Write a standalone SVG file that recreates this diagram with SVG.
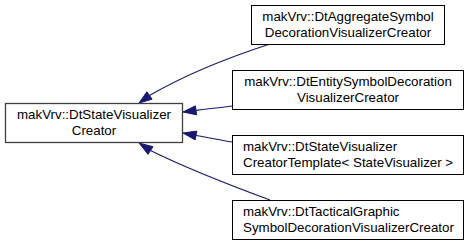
<svg xmlns="http://www.w3.org/2000/svg" width="469" height="247" viewBox="0 0 469 247">
<style>
.box{fill:#ffffff;stroke:#000000;stroke-width:1}
.cur{fill:#ffffff;stroke:#404040;stroke-width:1.3}
text{font-family:"Liberation Sans",Arial,Helvetica,sans-serif;font-size:13.33px;fill:#000000}
.c{text-anchor:middle}
.l{text-anchor:start}
.edge{fill:none;stroke:#191970;stroke-width:1.2}
.head{fill:#191970;stroke:#191970;stroke-width:1}
</style>
<rect width="469" height="247" fill="#ffffff"/>
<g id="connectors">
  <path class="edge" d="M270,44 C233,56 190,72 149.5,95.5"/>
  <polygon class="head" points="139,103 152.1,99.2 146.9,91.8"/>
  <path class="edge" d="M232,106 C220,107.5 208,109 196,110.3"/>
  <polygon class="head" points="183,112 196.6,114.8 195.4,105.8"/>
  <path class="edge" d="M232,142 C220,140 208,137.5 196,135.5"/>
  <polygon class="head" points="183,133 195.15,139.9 196.85,131.1"/>
  <path class="edge" d="M270,200 C232,186 190,170 150.5,150.5"/>
  <polygon class="head" points="139,143 148,154.3 153,146.7"/>
</g>
<g id="node-state-creator">
  <rect class="cur" x="5.5" y="103.5" width="177" height="39"/>
  <text class="c" x="94" y="119">makVrv::DtStateVisualizer</text>
  <text class="c" x="94" y="134.5">Creator</text>
</g>
<g id="node-aggregate">
  <rect class="box" x="251.5" y="5.5" width="193" height="39"/>
  <text class="c" x="348" y="21">makVrv::DtAggregateSymbol</text>
  <text class="c" x="348" y="36.5">DecorationVisualizerCreator</text>
</g>
<g id="node-entity">
  <rect class="box" x="232.5" y="70.5" width="231" height="39"/>
  <text class="c" x="348" y="86">makVrv::DtEntitySymbolDecoration</text>
  <text class="c" x="348" y="101.5">VisualizerCreator</text>
</g>
<g id="node-template">
  <rect class="box" x="232.5" y="135.5" width="231" height="39"/>
  <text class="l" x="243" y="151">makVrv::DtStateVisualizer</text>
  <text class="l" x="243" y="166.5">CreatorTemplate&lt; StateVisualizer &gt;</text>
</g>
<g id="node-tactical">
  <rect class="box" x="232.5" y="200.5" width="231" height="39"/>
  <text class="l" x="243" y="216">makVrv::DtTacticalGraphic</text>
  <text class="l" x="243" y="231.5">SymbolDecorationVisualizerCreator</text>
</g>
</svg>
